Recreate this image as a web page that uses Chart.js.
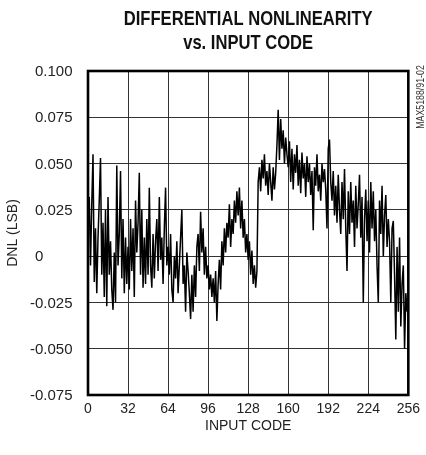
<!DOCTYPE html>
<html>
<head>
<meta charset="utf-8">
<script src="https://cdn.jsdelivr.net/npm/chart.js@4/dist/chart.umd.min.js"></script>
<style>
  html, body { margin: 0; padding: 0; background: #fff; }
  #wrap { width: 426px; height: 455px; }
</style>
</head>
<body>
<div id="wrap"><canvas id="c" width="426" height="455"></canvas></div>
<script>
// Labels
const chartTitle = ['DIFFERENTIAL NONLINEARITY', 'vs. INPUT CODE'];
const partNumber = 'MAX5188/91-02';
const xAxisLabel = 'INPUT CODE';
const yAxisLabel = 'DNL (LSB)';

// Axis ticks
const xTickValues = [0, 32, 64, 96, 128, 160, 192, 224, 256];
const yTickValues = [-0.075, -0.05, -0.025, 0, 0.025, 0.05, 0.075, 0.1];
const yTickLabels = ['-0.075', '-0.050', '-0.025', '0', '0.025', '0.050', '0.075', '0.100'];

// DNL (LSB) for input codes 0..255
const dnlLsb = [
  0.020, 0.032, -0.005, 0.028, 0.055, -0.014, 0.015, -0.020, 0.010, 0.030, 0.053, -0.010, 0.018, -0.022, 0.025, -0.027,
  0.032, -0.010, 0.008, -0.018, -0.029, 0.002, -0.025, 0.049, -0.005, 0.012, 0.046, -0.012, 0.020, -0.020, 0.010, -0.015,
  0.005, -0.018, 0.020, -0.008, 0.015, -0.022, 0.030, 0.002, 0.018, 0.045, -0.010, 0.025, -0.017, 0.010, -0.015, 0.020,
  -0.010, 0.037, -0.005, -0.017, 0.012, -0.012, 0.008, 0.020, -0.008, 0.032, -0.002, 0.010, -0.015, 0.015, 0.037, -0.005,
  0.005, -0.010, 0.012, -0.018, -0.025, 0.000, -0.012, 0.008, -0.020, -0.005, 0.010, 0.025, -0.015, -0.005, -0.030, 0.002,
  -0.008, -0.020, -0.034, -0.010, -0.030, -0.005, -0.022, 0.005, 0.012, -0.008, 0.024, 0.002, 0.015, -0.010, 0.005, -0.012,
  -0.005, -0.018, -0.010, -0.022, -0.012, -0.025, -0.008, -0.035, -0.015, -0.002, -0.018, 0.008, -0.005, 0.015, 0.002, 0.018,
  0.010, 0.028, 0.005, 0.020, 0.012, 0.030, 0.018, 0.035, 0.022, 0.037, 0.015, 0.030, 0.010, 0.020, 0.002, 0.012,
  -0.002, 0.008, -0.010, 0.003, -0.015, -0.005, -0.017, -0.008, 0.040, 0.048, 0.035, 0.052, 0.042, 0.055, 0.038, 0.046,
  0.033, 0.050, 0.040, 0.030, 0.048, 0.036, 0.045, 0.060, 0.079, 0.052, 0.074, 0.058, 0.068, 0.050, 0.064, 0.055,
  0.048, 0.062, 0.040, 0.058, 0.036, 0.055, 0.045, 0.060, 0.038, 0.052, 0.034, 0.056, 0.042, 0.050, 0.032, 0.054,
  0.040, 0.050, 0.033, 0.046, 0.014, 0.048, 0.038, 0.055, 0.035, 0.044, 0.030, 0.050, 0.040, 0.047, 0.036, 0.015,
  0.058, 0.063, 0.040, 0.030, 0.046, 0.022, 0.038, 0.018, 0.044, 0.025, 0.012, 0.040, 0.020, 0.047, 0.015, -0.008,
  0.035, 0.012, 0.040, 0.018, 0.030, 0.005, 0.038, 0.015, 0.028, 0.044, 0.010, 0.032, -0.025, 0.020, 0.036, 0.008,
  0.030, 0.002, 0.040, 0.015, 0.035, 0.008, 0.025, -0.005, -0.025, 0.030, 0.012, 0.038, 0.000, 0.022, 0.033, 0.005,
  0.020, 0.008, -0.025, 0.015, 0.019, -0.010, -0.045, 0.005, -0.030, 0.010, -0.038, -0.015, -0.005, -0.050, -0.020, -0.030
];

const points = dnlLsb.map((v, code) => ({ x: code, y: v }));

const TEXT = '#222';
const SANS = '"Liberation Sans", Arial, sans-serif';

// Draws text squeezed horizontally to a condensed face
function condensedText(ctx, text, x, y, squeeze) {
  ctx.save();
  ctx.translate(x, y);
  ctx.scale(squeeze, 1);
  ctx.fillText(text, 0, 0);
  ctx.restore();
}

// Frame, title, y tick labels and part number
const decorations = {
  id: 'decorations',
  afterDraw(chart) {
    const { ctx, chartArea: a } = chart;
    const yScale = chart.scales.y;
    ctx.save();

    // heavy frame round the plot
    ctx.strokeStyle = '#000';
    ctx.lineWidth = 2.6;
    ctx.strokeRect(a.left, a.top, a.right - a.left, a.bottom - a.top);

    // two-line title centred on the plot
    ctx.fillStyle = '#111';
    ctx.font = 'bold 21px ' + SANS;
    ctx.textAlign = 'center';
    ctx.textBaseline = 'middle';
    const cx = (a.left + a.right) / 2;
    condensedText(ctx, chartTitle[0], cx, 19, 0.79);
    condensedText(ctx, chartTitle[1], cx, 43, 0.79);

    // y tick labels, minus sign hanging to the left
    ctx.fillStyle = TEXT;
    ctx.font = '15px ' + SANS;
    ctx.textAlign = 'left';
    const minusW = ctx.measureText('-').width;
    yTickValues.forEach((v, i) => {
      const label = yTickLabels[i];
      const y = yScale.getPixelForValue(v);
      const x = 35 - (label.startsWith('-') ? minusW : 0);
      ctx.fillText(label, x, y + 1);
    });

    // part number, rotated, beside the top right corner
    ctx.save();
    ctx.translate(421, 97);
    ctx.rotate(-Math.PI / 2);
    ctx.font = '10px ' + SANS;
    ctx.fillStyle = '#333';
    ctx.textAlign = 'center';
    ctx.textBaseline = 'middle';
    condensedText(ctx, partNumber, 0, 0, 0.88);
    ctx.restore();

    ctx.restore();
  }
};

new Chart(document.getElementById('c'), {
  type: 'line',
  data: {
    datasets: [{
      data: points,
      borderColor: '#000',
      borderWidth: 1.5,
      pointRadius: 0,
      tension: 0,
      fill: false
    }]
  },
  options: {
    responsive: false,
    animation: false,
    devicePixelRatio: 1,
    parsing: false,
    layout: { padding: { top: 71, right: 12, left: 0, bottom: 0 } },
    plugins: { legend: { display: false }, title: { display: false }, tooltip: { enabled: false } },
    scales: {
      x: {
        type: 'linear',
        min: 0,
        max: 256,
        afterBuildTicks: s => { s.ticks = xTickValues.map(v => ({ value: v })); },
        afterFit: s => { s.height = 60; },
        grid: { color: '#333', lineWidth: 1, drawTicks: false },
        border: { display: false },
        ticks: {
          padding: 6,
          color: TEXT,
          font: { family: SANS, size: 14 },
          maxRotation: 0,
          callback: v => String(v)
        },
        title: {
          display: true,
          text: xAxisLabel,
          color: TEXT,
          font: { family: SANS, size: 14 },
          padding: { top: 0, bottom: 20 }
        }
      },
      y: {
        type: 'linear',
        min: -0.075,
        max: 0.1,
        afterBuildTicks: s => { s.ticks = yTickValues.map(v => ({ value: v })); },
        afterFit: s => { s.width = 88; },
        grid: { color: '#333', lineWidth: 1, drawTicks: false },
        border: { display: false },
        ticks: { display: false },
        title: {
          display: true,
          text: yAxisLabel,
          color: TEXT,
          font: { family: SANS, size: 14 },
          padding: { top: 5, bottom: 0 }
        }
      }
    }
  },
  plugins: [decorations]
});
</script>
</body>
</html>
